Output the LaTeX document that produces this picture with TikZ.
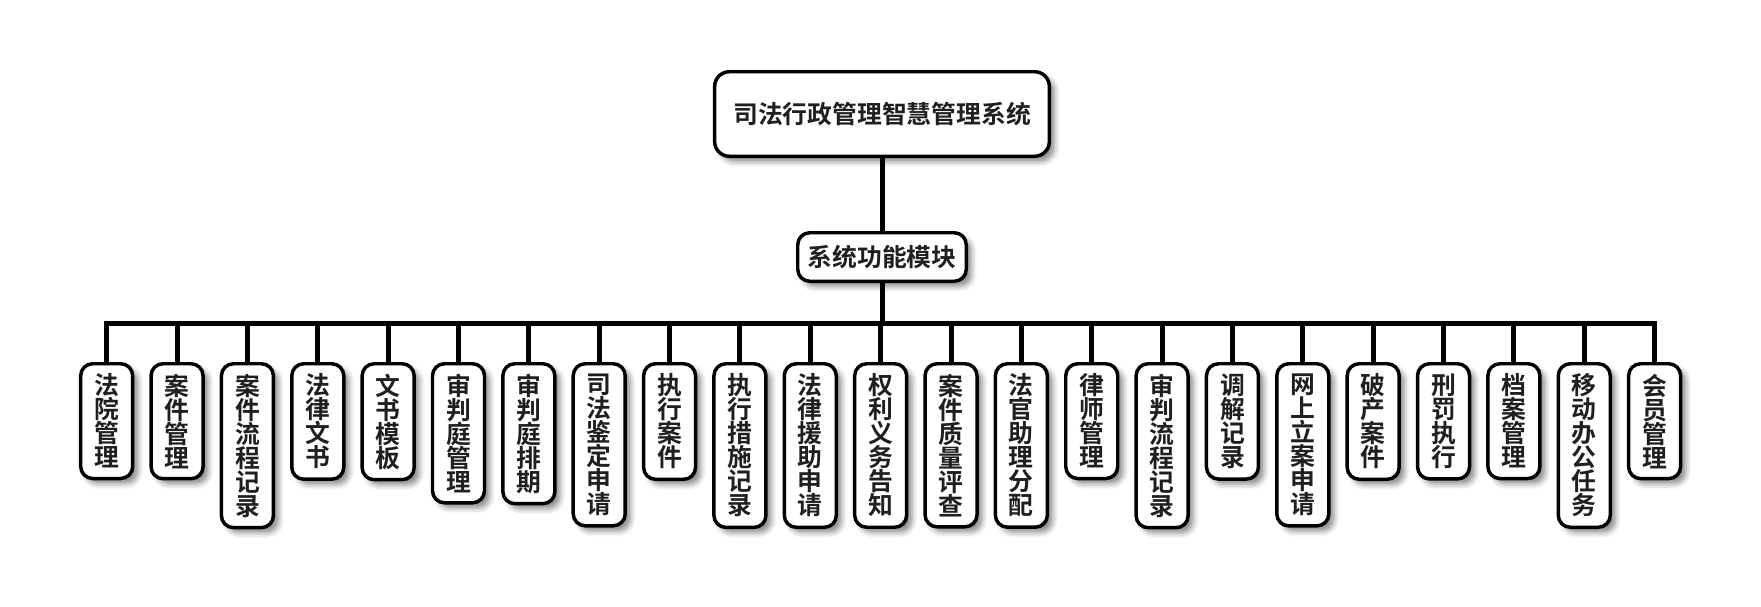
\documentclass[tikz,border=0pt]{standalone}
\usepackage{fontspec}
\newfontfamily\cjk{Noto Sans CJK SC Bold}
\usetikzlibrary{shadows.blur}

\tikzset{
  box/.style={draw, line width=2.6pt, fill=white, rounded corners=9pt,
    font=\cjk\fontsize{18.6pt}{18pt}\selectfont, text=black!88,
    blur shadow={shadow xshift=4pt, shadow yshift=-4pt, shadow blur radius=4pt, shadow opacity=45}},
  leaf/.style={box, align=center, minimum width=39pt, inner xsep=0pt, inner ysep=7.6pt},
  conn/.style={line width=3.75pt},
}

\begin{document}
\begin{tikzpicture}[x=0.75pt, y=-0.75pt]
\useasboundingbox (0,0) rectangle (1761,607);
% top of the tree
\node[box, minimum width=251pt, minimum height=63.4pt, rounded corners=11pt] (sys) at (882,114) {司法行政管理智慧管理系统};
\node[box, minimum width=126.4pt, minimum height=36.4pt] (mod) at (882,257) {系统功能模块};
\coordinate (bus) at (882,323);
\draw[conn] (sys) -- (mod);
\draw[conn] (mod) -- (bus);
% the module leaves
\foreach \lbl [count=\i] in {
  {法\\院\\管\\理}, {案\\件\\管\\理}, {案\\件\\流\\程\\记\\录}, {法\\律\\文\\书},
  {文\\书\\模\\板}, {审\\判\\庭\\管\\理}, {审\\判\\庭\\排\\期}, {司\\法\\鉴\\定\\申\\请},
  {执\\行\\案\\件}, {执\\行\\措\\施\\记\\录}, {法\\律\\援\\助\\申\\请}, {权\\利\\义\\务\\告\\知},
  {案\\件\\质\\量\\评\\查}, {法\\官\\助\\理\\分\\配}, {律\\师\\管\\理}, {审\\判\\流\\程\\记\\录},
  {调\\解\\记\\录}, {网\\上\\立\\案\\申\\请}, {破\\产\\案\\件}, {刑\\罚\\执\\行},
  {档\\案\\管\\理}, {移\\动\\办\\公\\任\\务}, {会\\员\\管\\理}} {
  \node[leaf, anchor=north] (leaf\i) at ({106.7+70.36*(\i-1)}, 362) {\lbl};
  \draw[conn] (bus) -| (leaf\i.north);
}
\end{tikzpicture}
\end{document}
